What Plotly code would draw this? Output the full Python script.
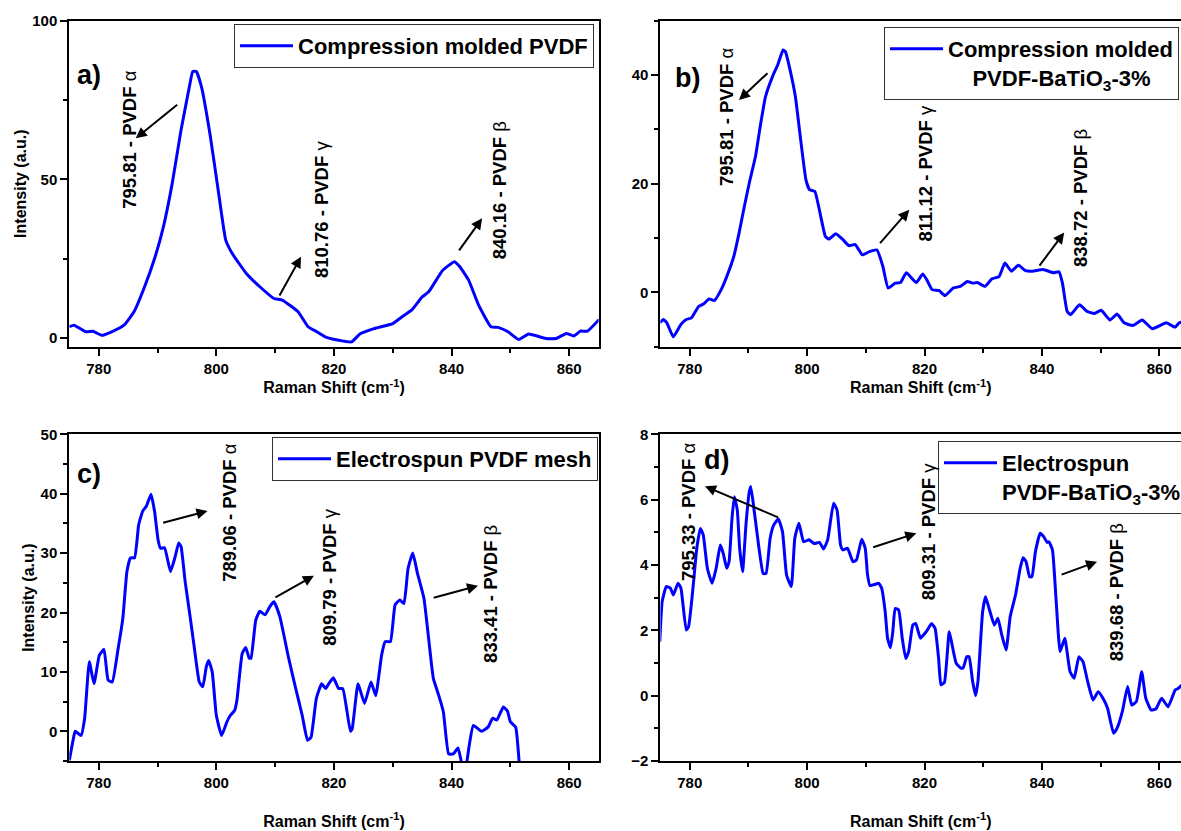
import plotly.graph_objects as go

# ---------------- data ----------------
a_x = [775.0, 775.8, 777.8, 779.0, 780.5, 782.2, 784.3, 786.0, 787.8, 789.5, 791.0, 792.5, 794.0,
       795.4, 796.0, 796.6, 797.5, 798.9, 800.4, 801.6, 802.7, 805.1, 807.4, 809.8, 811.2, 813.9,
       815.6, 817.1, 818.5, 820.6, 823.0, 824.4, 826.8, 830.0, 832.0, 833.2, 835.0, 836.1, 838.5,
       840.5, 841.4, 842.9, 844.6, 846.7, 847.9, 849.6, 851.4, 853.1, 856.0, 857.8, 859.5, 860.8,
       861.9, 863.1, 865.1]
a_y = [3.5, 4.0, 1.9, 2.1, 0.8, 1.9, 4.0, 8.2, 16.1, 25.0, 35.0, 48.7, 65.5,
       79.0, 84.0, 84.0, 79.0, 64.5, 45.5, 30.8, 26.6, 20.3, 16.1, 12.4, 11.9, 8.2,
       3.5, 1.9, 0.3, -0.7, -1.3, 1.2, 2.9, 4.5, 7.2, 8.7, 12.9, 14.5, 21.3,
       24.0, 22.4, 18.2, 10.3, 3.5, 3.3, 1.9, -0.5, 1.2, -0.2, -0.2, 1.4, 0.6,
       2.1, 2.1, 5.8]

b_x = [774.9, 775.5, 776.1, 777.2, 778.5, 779.4, 780.3, 781.5, 782.4, 783.3, 784.2, 785.4, 786.3,
       787.5, 788.4, 789.3, 790.2, 791.2, 792.0, 792.9, 794.1, 795.0, 795.9, 796.3, 797.1, 798.0,
       798.9, 799.8, 800.4, 801.3, 802.2, 803.1, 803.7, 804.9, 806.1, 807.1, 808.2, 809.4, 810.6,
       811.9, 812.9, 813.8, 815.0, 815.9, 816.9, 818.6, 819.7, 820.4, 821.3, 822.5, 823.5, 824.9,
       826.1, 827.3, 828.2, 829.0, 830.3, 831.5, 832.7, 833.7, 834.8, 836.0, 837.2, 838.4, 840.2,
       842.0, 842.9, 843.5, 844.3, 844.9, 846.4, 847.7, 848.9, 850.1, 851.6, 852.8, 854.0, 855.5,
       857.1, 858.8, 861.2, 862.7, 863.4, 865.0]
b_y = [-5.6, -5.0, -5.6, -8.2, -5.9, -5.0, -4.7, -2.6, -2.1, -1.2, -1.5, 0.6, 2.9,
       6.6, 10.9, 15.8, 20.4, 25.0, 30.5, 36.0, 39.7, 41.9, 44.6, 44.3, 40.9, 36.0,
       28.1, 20.7, 18.9, 18.6, 14.6, 10.3, 9.8, 10.8, 9.7, 8.6, 8.8, 6.9, 7.5,
       7.8, 4.8, 0.8, 1.7, 1.8, 3.6, 1.8, 3.4, 2.3, 0.5, 0.3, -0.6, 0.8,
       1.1, 2.0, 1.7, 1.8, 1.1, 2.5, 2.9, 5.4, 3.9, 5.0, 4.0, 3.9, 4.2,
       3.6, 3.8, 1.7, -3.5, -4.1, -2.3, -3.5, -3.9, -3.3, -5.1, -4.0, -5.6, -6.1,
       -5.1, -6.7, -5.6, -6.4, -5.6, -5.2]

c_x = [775.0, 775.7, 776.0, 777.0, 777.6, 778.4, 779.2, 780.1, 780.9, 781.6, 782.3, 783.3, 784.1,
       784.8, 785.4, 786.1, 786.8, 787.5, 788.1, 788.9, 789.5, 790.1, 790.5, 791.2, 792.2, 793.0,
       793.6, 794.0, 794.7, 795.5, 796.2, 797.1, 797.7, 798.3, 798.7, 799.3, 800.0, 800.9, 801.8,
       802.4, 803.1, 803.5, 804.4, 805.0, 805.6, 805.9, 806.7, 807.4, 808.3, 809.1, 809.8, 810.8,
       812.3, 813.5, 814.6, 815.5, 816.1, 817.0, 817.9, 818.6, 819.1, 819.9, 820.8, 821.5, 822.8,
       823.1, 824.1, 825.2, 826.3, 827.1, 828.1, 828.7, 829.6, 830.4, 831.2, 831.9, 832.6, 833.4,
       834.2, 835.3, 836.1, 836.9, 837.8, 838.6, 839.5, 840.3, 841.1, 841.9, 842.4, 843.0, 843.7,
       845.1, 846.2, 847.0, 847.7, 848.8, 849.5, 850.0, 850.9, 851.5, 852.3]
c_y = [-4.9, -1.2, 0.0, -0.7, 2.1, 11.7, 8.0, 12.8, 13.8, 8.6, 8.3, 13.9, 19.0,
       26.9, 29.2, 29.2, 34.8, 37.1, 37.9, 39.9, 37.0, 32.2, 30.8, 30.9, 26.9, 29.4,
       31.7, 31.1, 25.2, 19.6, 14.5, 8.3, 7.5, 10.9, 11.9, 10.0, 2.7, -0.7, 1.6,
       2.7, 3.5, 5.2, 13.1, 14.1, 12.3, 12.3, 18.7, 20.2, 19.6, 21.0, 21.8, 19.3,
       12.3, 7.2, 2.7, -1.5, -1.0, 5.5, 8.0, 7.2, 8.0, 9.0, 7.2, 7.2, 0.0,
       0.4, 8.0, 4.7, 8.3, 6.0, 12.8, 15.1, 15.1, 21.3, 22.1, 21.5, 27.4, 30.0,
       26.6, 22.4, 15.6, 8.9, 6.1, 3.3, -3.8, -3.8, -2.8, -6.0, -6.0, -2.4, 1.0,
       0.0, 0.7, 2.2, 1.9, 4.1, 3.4, 1.6, 0.7, -5.2, -12.0]

d_x = [774.9, 775.3, 776.0, 776.7, 777.2, 778.0, 778.5, 779.4, 779.8, 780.6, 781.2, 781.8, 782.3,
       783.0, 783.8, 784.5, 785.2, 785.7, 786.3, 786.7, 787.2, 787.6, 788.1, 788.5, 789.0, 789.6,
       790.1, 790.4, 791.0, 791.8, 792.5, 793.0, 793.7, 794.3, 795.1, 795.8, 796.5, 797.3, 797.9,
       798.6, 799.4, 800.3, 801.2, 802.1, 802.8, 803.5, 804.5, 805.1, 805.7, 806.1, 806.9, 807.8,
       808.4, 809.3, 809.9, 810.3, 810.7, 811.6, 812.2, 812.7, 813.3, 813.7, 814.2, 814.6, 815.0,
       815.6, 816.2, 816.8, 817.3, 818.0, 818.5, 819.3, 820.3, 821.2, 821.8, 822.4, 822.8, 823.4,
       824.2, 824.6, 825.4, 826.2, 826.6, 827.2, 827.6, 828.2, 828.7, 829.1, 829.9, 830.4, 831.0,
       831.9, 832.5, 833.1, 833.9, 834.6, 835.5, 836.3, 836.8, 837.3, 837.9, 838.3, 838.9, 839.7,
       840.3, 840.9, 841.2, 841.8, 842.4, 843.1, 843.9, 844.8, 845.5, 846.3, 847.0, 847.8, 848.7,
       849.6, 850.4, 851.2, 852.2, 852.8, 853.7, 854.6, 855.3, 856.1, 857.0, 857.7, 858.6, 859.4,
       860.4, 861.5, 862.7, 863.2, 864.0]
d_y = [1.65, 2.88, 3.34, 3.29, 3.08, 3.44, 3.29, 2.01, 2.11, 3.39, 4.51, 5.12, 4.92,
       3.90, 3.44, 3.90, 4.61, 4.36, 3.90, 4.10, 5.43, 6.09, 5.68, 4.51, 3.80, 5.28,
       6.19, 6.40, 5.63, 4.51, 3.74, 3.74, 4.82, 5.22, 5.41, 5.02, 3.69, 3.34, 4.82,
       5.28, 4.71, 4.77, 4.66, 4.69, 4.49, 4.77, 5.89, 5.68, 4.61, 4.46, 4.51, 4.10,
       4.15, 4.79, 4.51, 3.69, 3.37, 3.41, 3.44, 3.29, 2.57, 1.76, 1.47, 1.96, 2.67,
       2.62, 1.76, 1.14, 1.35, 2.16, 2.21, 1.76, 1.96, 2.21, 2.06, 1.14, 0.33, 0.41,
       1.96, 1.65, 0.99, 0.84, 0.86, 1.19, 1.19, 0.43, 0.00, 0.43, 2.57, 3.03, 2.67,
       2.16, 2.37, 1.91, 1.40, 2.42, 3.08, 3.90, 4.22, 4.10, 3.64, 3.64, 4.41, 4.97,
       4.87, 4.69, 4.71, 4.46, 2.98, 1.35, 1.76, 0.73, 0.53, 1.19, 1.04, 0.43, -0.13,
       0.12, -0.08, -0.39, -1.15, -1.00, -0.49, 0.28, -0.29, -0.18, 0.73, -0.08, -0.44, -0.41,
       -0.08, -0.34, 0.17, 0.22, 0.35]

series_names = [
    "Compression molded PVDF",
    "Compression molded<br>\u00a0\u00a0\u00a0\u00a0PVDF-BaTiO<sub>3</sub>-3%",
    "Electrospun PVDF mesh",
    "Electrospun<br>PVDF-BaTiO<sub>3</sub>-3%",
]
panel_labels = ["a)", "b)", "c)", "d)"]

# peak annotations: (text, greek, text_x, text_y, tail_x, tail_y, head_x, head_y)
a_peaks = [("795.81 - PVDF", "\u03b1", 785.3, 62.7, 793.6, 73.9, 786.3, 62.9),
           ("810.76 - PVDF", "\u03b3", 817.8, 40.6, 810.6, 12.9, 814.4, 25.6),
           ("840.16 - PVDF", "\u03b2", 848.1, 46.6, 841.1, 27.1, 845.2, 37.7)]
b_peaks = [("795.81 - PVDF", "\u03b1", 786.3, 32.4, 793.5, 40.6, 788.4, 35.4),
           ("811.12 - PVDF", "\u03b3", 820.1, 21.9, 812.2, 8.8, 817.4, 15.2),
           ("838.72 - PVDF", "\u03b2", 846.7, 17.4, 839.4, 4.65, 843.8, 11.0)]
c_peaks = [("789.06 - PVDF", "\u03b1", 802.1, 36.9, 790.7, 35.05, 798.5, 37.1),
           ("809.79 - PVDF", "\u03b3", 819.3, 26.0, 809.8, 22.4, 816.6, 26.2),
           ("833.41 - PVDF", "\u03b2", 846.5, 23.1, 836.7, 22.4, 844.5, 24.5)]
d_peaks = [("795.33 - PVDF", "\u03b1", 779.7, 5.65, 795.3, 5.44, 782.6, 6.41),
           ("809.31 - PVDF", "\u03b3", 820.7, 5.02, 811.0, 4.53, 818.6, 4.97),
           ("839.68 - PVDF", "\u03b2", 852.7, 3.18, 843.1, 3.69, 849.4, 4.10)]

# ---------------- layout geometry ----------------
W, H = 1181, 831
FONT = "Liberation Sans, Arial, sans-serif"
BLUE = "#0000FF"


def fx(p):
    return p / W


def fy(p):
    return 1 - p / H


panels = [
    dict(x=a_x, y=a_y, peaks=a_peaks, xdom=[fx(69.3), fx(598.6)], ydom=[fy(346.7), fy(20.7)],
         xr=[775, 865], yr=[-2.8, 100], dt=50, mdt=25, ytitle=True, rightline=True,
         lab=(778.4, 82.9), leg=dict(x=fx(594), y=fy(24), xanchor="right"), xstand=4),
    dict(x=b_x, y=b_y, peaks=b_peaks, xdom=[fx(660.4), 1.0], ydom=[fy(346.7), fy(20.7)],
         xr=[775, 863.7], yr=[-10, 50], dt=20, mdt=10, ytitle=False, rightline=False,
         lab=(779.7, 39.5), leg=dict(x=fx(884), y=fy(27), xanchor="left"), xstand=4),
    dict(x=c_x, y=c_y, peaks=c_peaks, xdom=[fx(69.3), fx(598.6)], ydom=[fy(761), fy(434.3)],
         xr=[775, 865], yr=[-5, 50], dt=10, mdt=5, ytitle=True, rightline=True,
         lab=(778.4, 43.4), leg=dict(x=fx(598), y=fy(437), xanchor="right"), xstand=26),
    dict(x=d_x, y=d_y, peaks=d_peaks, xdom=[fx(660.4), 1.0], ydom=[fy(761), fy(434.3)],
         xr=[775, 863.7], yr=[-2, 8], dt=2, mdt=1, ytitle=False, rightline=False,
         lab=(784.6, 7.21), leg=dict(x=fx(938), y=fy(441), xanchor="left"), xstand=26),
]

fig = go.Figure()
annotations = []
layout_axes = {}

for i, p in enumerate(panels):
    n = "" if i == 0 else str(i + 1)
    xa, ya = "x" + n, "y" + n
    legname = "legend" + n
    fig.add_trace(go.Scatter(
        x=p["x"], y=p["y"], mode="lines", name=series_names[i],
        line=dict(color=BLUE, width=3, shape="spline", smoothing=0.4),
        xaxis=xa, yaxis=ya, legend=legname, showlegend=True,
    ))
    tickfont = dict(family=FONT, size=15, color="black", weight="bold")
    layout_axes["xaxis" + n] = dict(
        domain=p["xdom"], range=p["xr"], anchor=ya, showline=True, linecolor="black",
        linewidth=2, mirror=True, ticks="outside", ticklen=7, tickwidth=2, tickcolor="black",
        tick0=780, dtick=20, showgrid=False, zeroline=False, tickfont=tickfont,
        minor=dict(dtick=10, tick0=780, ticks="outside", ticklen=4, tickwidth=2,
                   tickcolor="black", showgrid=False),
        title=dict(text="Raman Shift (cm<sup>-1</sup>)", standoff=p["xstand"],
                   font=dict(family=FONT, size=16, color="black", weight="bold")),
    )
    layout_axes["yaxis" + n] = dict(
        domain=p["ydom"], range=p["yr"], anchor=xa, showline=True, linecolor="black",
        linewidth=2, mirror=p["rightline"], ticks="outside", ticklen=7, tickwidth=2,
        tickcolor="black", tick0=0, dtick=p["dt"], showgrid=False, zeroline=False,
        tickfont=tickfont,
        minor=dict(dtick=p["mdt"], tick0=0, ticks="outside", ticklen=4, tickwidth=2,
                   tickcolor="black", showgrid=False),
        title=dict(text="Intensity (a.u.)" if p["ytitle"] else "", standoff=2,
                   font=dict(family=FONT, size=16, color="black", weight="bold")),
    )
    layout_axes[legname] = dict(
        x=p["leg"]["x"], y=p["leg"]["y"], xanchor=p["leg"]["xanchor"], yanchor="top",
        xref="paper", yref="paper", bgcolor="white", bordercolor="#333333", borderwidth=1,
        font=dict(family=FONT, size=22, color="black", weight="bold"), itemwidth=53,
        tracegroupgap=0, valign="top",
    )
    # panel letter
    annotations.append(dict(
        x=p["lab"][0], y=p["lab"][1], xref=xa, yref=ya, text="<b>" + panel_labels[i] + "</b>",
        showarrow=False, font=dict(family=FONT, size=27, color="black"),
    ))
    for (txt, greek, tx, ty, ax_, ay_, hx, hy) in p["peaks"]:
        annotations.append(dict(
            x=tx, y=ty, xref=xa, yref=ya, textangle=-90, showarrow=False,
            text="<b>" + txt + "</b> " + greek,
            font=dict(family=FONT, size=18.5, color="black"),
        ))
        annotations.append(dict(
            x=hx, y=hy, ax=ax_, ay=ay_, xref=xa, yref=ya, axref=xa, ayref=ya,
            text="", showarrow=True, arrowhead=2, arrowsize=1.1, arrowwidth=2,
            arrowcolor="black", standoff=0, startstandoff=0,
        ))

fig.update_layout(
    width=W, height=H,
    margin=dict(l=0, r=0, t=0, b=0, autoexpand=False),
    paper_bgcolor="white", plot_bgcolor="white",
    annotations=annotations,
    **layout_axes,
)

fig.write_html("out.html", config={"displayModeBar": False},
               post_script="document.body.style.margin='0px';")
